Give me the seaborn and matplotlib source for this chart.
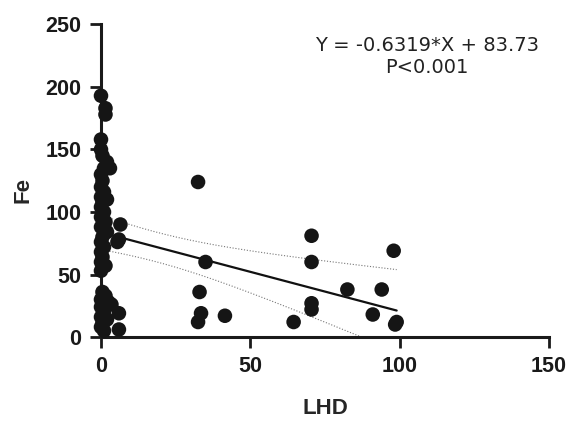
import numpy as np
import pandas as pd
import matplotlib
matplotlib.use("Agg")
import matplotlib.pyplot as plt
import seaborn as sns

# LHD vs Fe values
lhd = [0, 1.5, 1.5, 0, 0, 0.5, 2, 1, 0, 0.5, 0, 1, 0, 0.5, 0, 1, 0, 1.5, 0, 2,
       0.5, 0, 1, 0, 0.5, 0, 1.5, 0, 0.5, 1.5, 0, 2.5, 3.5, 0, 1, 0, 2, 0.5, 0, 1,
       6.5, 6, 5.5, 6, 6, 3, 2,
       32.5, 35, 33, 33.5, 32.5, 41.5, 64.5, 70.5, 70.5, 70.5, 70.5, 82.5, 91, 94,
       98, 99, 98.5]
fe = [193, 183, 178, 158, 150, 145, 140, 135, 130, 125, 120, 116, 112, 108, 104, 100, 96, 92, 88, 84,
      80, 76, 72, 68, 64, 60, 57, 53, 36, 33, 30, 28, 26, 24, 20, 16, 14, 11, 8, 5,
      90, 78, 76, 19, 6, 135, 110,
      124, 60, 36, 19, 12, 17, 12, 81, 60, 27, 22, 38, 18, 38,
      69, 12, 10]

slope = [-0.6319]
intercept = [83.73]
equation_text = ["Y = -0.6319*X + 83.73", "P<0.001"]

x_ticks = [0, 50, 100, 150]
y_ticks = [0, 50, 100, 150, 200, 250]

#------------------------------------------------------------------
# confidence band around the given line, from the data residuals
#------------------------------------------------------------------
def ConfidenceBand(x, y, xs):
    x = np.asarray(x, dtype=float)
    y = np.asarray(y, dtype=float)
    fit = intercept[0] + slope[0] * x
    n = len(x)
    s = np.sqrt(np.sum((y - fit) ** 2) / (n - 2))
    sxx = np.sum((x - x.mean()) ** 2)
    se = s * np.sqrt(1.0 / n + (xs - x.mean()) ** 2 / sxx)
    line = intercept[0] + slope[0] * xs
    return line, line - 2.0 * se, line + 2.0 * se


def main():
    sns.set_style("ticks")
    plt.rcParams["font.family"] = ["Liberation Sans", "DejaVu Sans"]

    df = pd.DataFrame({"LHD": lhd, "Fe": fe})

    fig = plt.figure(figsize=(5.68, 4.23), dpi=100)
    ax = fig.add_axes([0.1778, 0.2033, 0.7887, 0.7388])

    xs = np.linspace(min(lhd), max(lhd), 200)
    line, lo, hi = ConfidenceBand(lhd, fe, xs)
    ax.plot(xs, line, color="#111111", lw=1.6, zorder=2)
    ax.plot(xs, lo, color="#777777", lw=0.8, ls=(0, (1, 1.6)), zorder=2)
    ax.plot(xs, hi, color="#777777", lw=0.8, ls=(0, (1, 1.6)), zorder=2)

    sns.scatterplot(data=df, x="LHD", y="Fe", color="#151515", s=110,
                    edgecolor="none", ax=ax, zorder=3, clip_on=False)

    ax.set_xlim(0, 150)
    ax.set_ylim(0, 250)
    ax.set_xticks(x_ticks)
    ax.set_yticks(y_ticks)
    ax.tick_params(axis="both", direction="out", length=8, width=2.0,
                   pad=6, labelsize=15.5, colors="#1a1a1a")
    for lab in ax.get_xticklabels() + ax.get_yticklabels():
        lab.set_fontweight("bold")

    for side in ["top", "right"]:
        ax.spines[side].set_visible(False)
    for side in ["left", "bottom"]:
        ax.spines[side].set_linewidth(2.2)
        ax.spines[side].set_color("#1a1a1a")

    ax.set_xlabel("LHD", fontsize=16, fontweight="bold")
    ax.set_ylabel("Fe", fontsize=16, fontweight="bold")
    ax.xaxis.set_label_coords(0.5, -0.195)
    ax.yaxis.set_label_coords(-0.15, 0.47)

    ax.text(0.727, 0.963, equation_text[0] + "\n" + equation_text[1],
            transform=ax.transAxes, ha="center", va="top", fontsize=14,
            family="DejaVu Sans", linespacing=1.2, color="#222222")

    fig.savefig("out.png", dpi=100)


if __name__ == "__main__":
    main()
